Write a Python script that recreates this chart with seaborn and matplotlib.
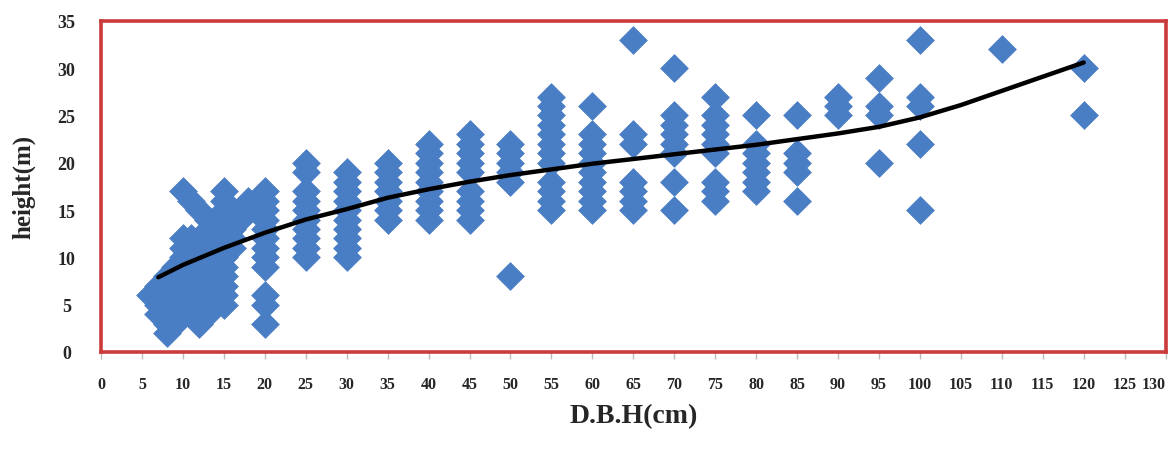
import matplotlib
matplotlib.use("Agg")
import matplotlib.pyplot as plt
import seaborn as sns
import pandas as pd

# ---- data ----
column_dbh = [6, 7, 8, 9, 10, 11, 12, 13, 14, 15, 16, 17, 18, 19,
              20, 25, 30, 35, 40, 45, 50, 55, 60, 65, 70, 75, 80, 85,
              90, 95, 100, 110, 120]
column_heights = [
    [6],
    [4, 5, 6, 7],
    [2, 3, 4, 5, 6, 7, 8],
    [3, 4, 5, 6, 7, 8, 9],
    [4, 5, 7, 8, 9, 10, 11, 12, 17],
    [4, 5, 6, 8, 9, 10, 11, 12, 16],
    [3, 4, 5, 6, 7, 9, 10, 11, 12, 15],
    [4, 5, 7, 8, 9, 10, 11, 12, 14],
    [5, 6, 7, 8, 9, 10, 11, 12, 13],
    [5, 6, 7, 8, 9, 10, 11, 12, 13, 14, 15, 16, 17],
    [11, 12, 13, 14],
    [14, 15],
    [15, 16],
    [15, 16],
    [17, 16, 15, 14, 13, 12, 11, 10, 9, 6, 5, 3],
    [20, 19, 17, 16, 15, 14, 13, 12, 11, 10],
    [19, 18, 17, 16, 15, 14, 13, 12, 11, 10],
    [20, 19, 18, 17, 16, 15, 14],
    [22, 21, 20, 19, 18, 17, 16, 15, 14],
    [23, 22, 21, 20, 19, 17, 16, 15, 14],
    [22, 21, 20, 19, 18, 8],
    [27, 26, 25, 24, 23, 22, 21, 20, 18, 17, 16, 15],
    [26, 23, 22, 21, 20, 19, 18, 17, 16, 15],
    [33, 23, 22, 18, 17, 16, 15],
    [30, 25, 24, 23, 22, 21, 18, 15],
    [27, 25, 24, 23, 22, 21, 18, 17, 16],
    [25, 22, 21, 20, 19, 18, 17],
    [25, 21, 20, 19, 16],
    [27, 26, 25],
    [29, 26, 25, 20],
    [33, 27, 26, 22, 15],
    [32],
    [30, 25],
]

trend_dbh = [7, 10, 15, 20, 25, 30, 35, 40, 45, 50, 55, 60, 65, 70, 75, 80,
             85, 90, 95, 100, 105, 110, 115, 120]
trend_height = [7.9, 9.2, 11.0, 12.6, 14.0, 15.1, 16.3, 17.2, 18.0, 18.7,
                19.3, 19.9, 20.4, 20.9, 21.4, 21.9, 22.5, 23.1, 23.8, 24.8,
                26.1, 27.6, 29.1, 30.6]

x_ticks = list(range(0, 131, 5))
y_ticks = list(range(0, 36, 5))

points = pd.DataFrame(
    [(d, h) for d, hs in zip(column_dbh, column_heights) for h in hs],
    columns=["dbh", "height"],
)
trend = pd.DataFrame({"dbh": trend_dbh, "height": trend_height})

# ---- style ----
sns.set_theme(style="white")
plt.rcParams["font.family"] = ["Liberation Serif", "DejaVu Serif"]

fig = plt.figure(figsize=(11.75, 4.56), dpi=100)
ax = fig.add_axes([0.086, 0.226, 0.906, 0.726])

sns.scatterplot(data=points, x="dbh", y="height", ax=ax, marker="D", s=200,
                color="#4A7EC4", edgecolor="#4A7EC4", linewidth=0.5, zorder=2)
sns.lineplot(data=trend, x="dbh", y="height", ax=ax, color="black",
             linewidth=3.2, zorder=3)

ax.set_xlim(0, 130)
ax.set_ylim(0, 35)
ax.set_xticks(x_ticks)
ax.set_yticks(y_ticks)
ax.set_xticklabels([str(t) for t in x_ticks], fontsize=11.5, fontweight="bold")
ax.set_yticklabels([str(t) for t in y_ticks], fontsize=13, fontweight="bold")
for lab in ax.get_yticklabels():
    lab.set_horizontalalignment("center")
ax.get_xticklabels()[-1].set_horizontalalignment("right")

ax.tick_params(axis="x", which="major", bottom=True, length=5, width=1,
               color="#BBBBBB", pad=12)
ax.tick_params(axis="y", left=False, pad=19)

for sp in ax.spines.values():
    sp.set_visible(True)
    sp.set_color("#CC3B3B")
    sp.set_linewidth(2.6)

ax.set_xlabel("D.B.H(cm)", fontsize=20, fontweight="bold", labelpad=8)
ax.set_ylabel("height(m)", fontsize=18, fontweight="bold", labelpad=16)

fig.savefig("out.png", dpi=100, facecolor="white")
